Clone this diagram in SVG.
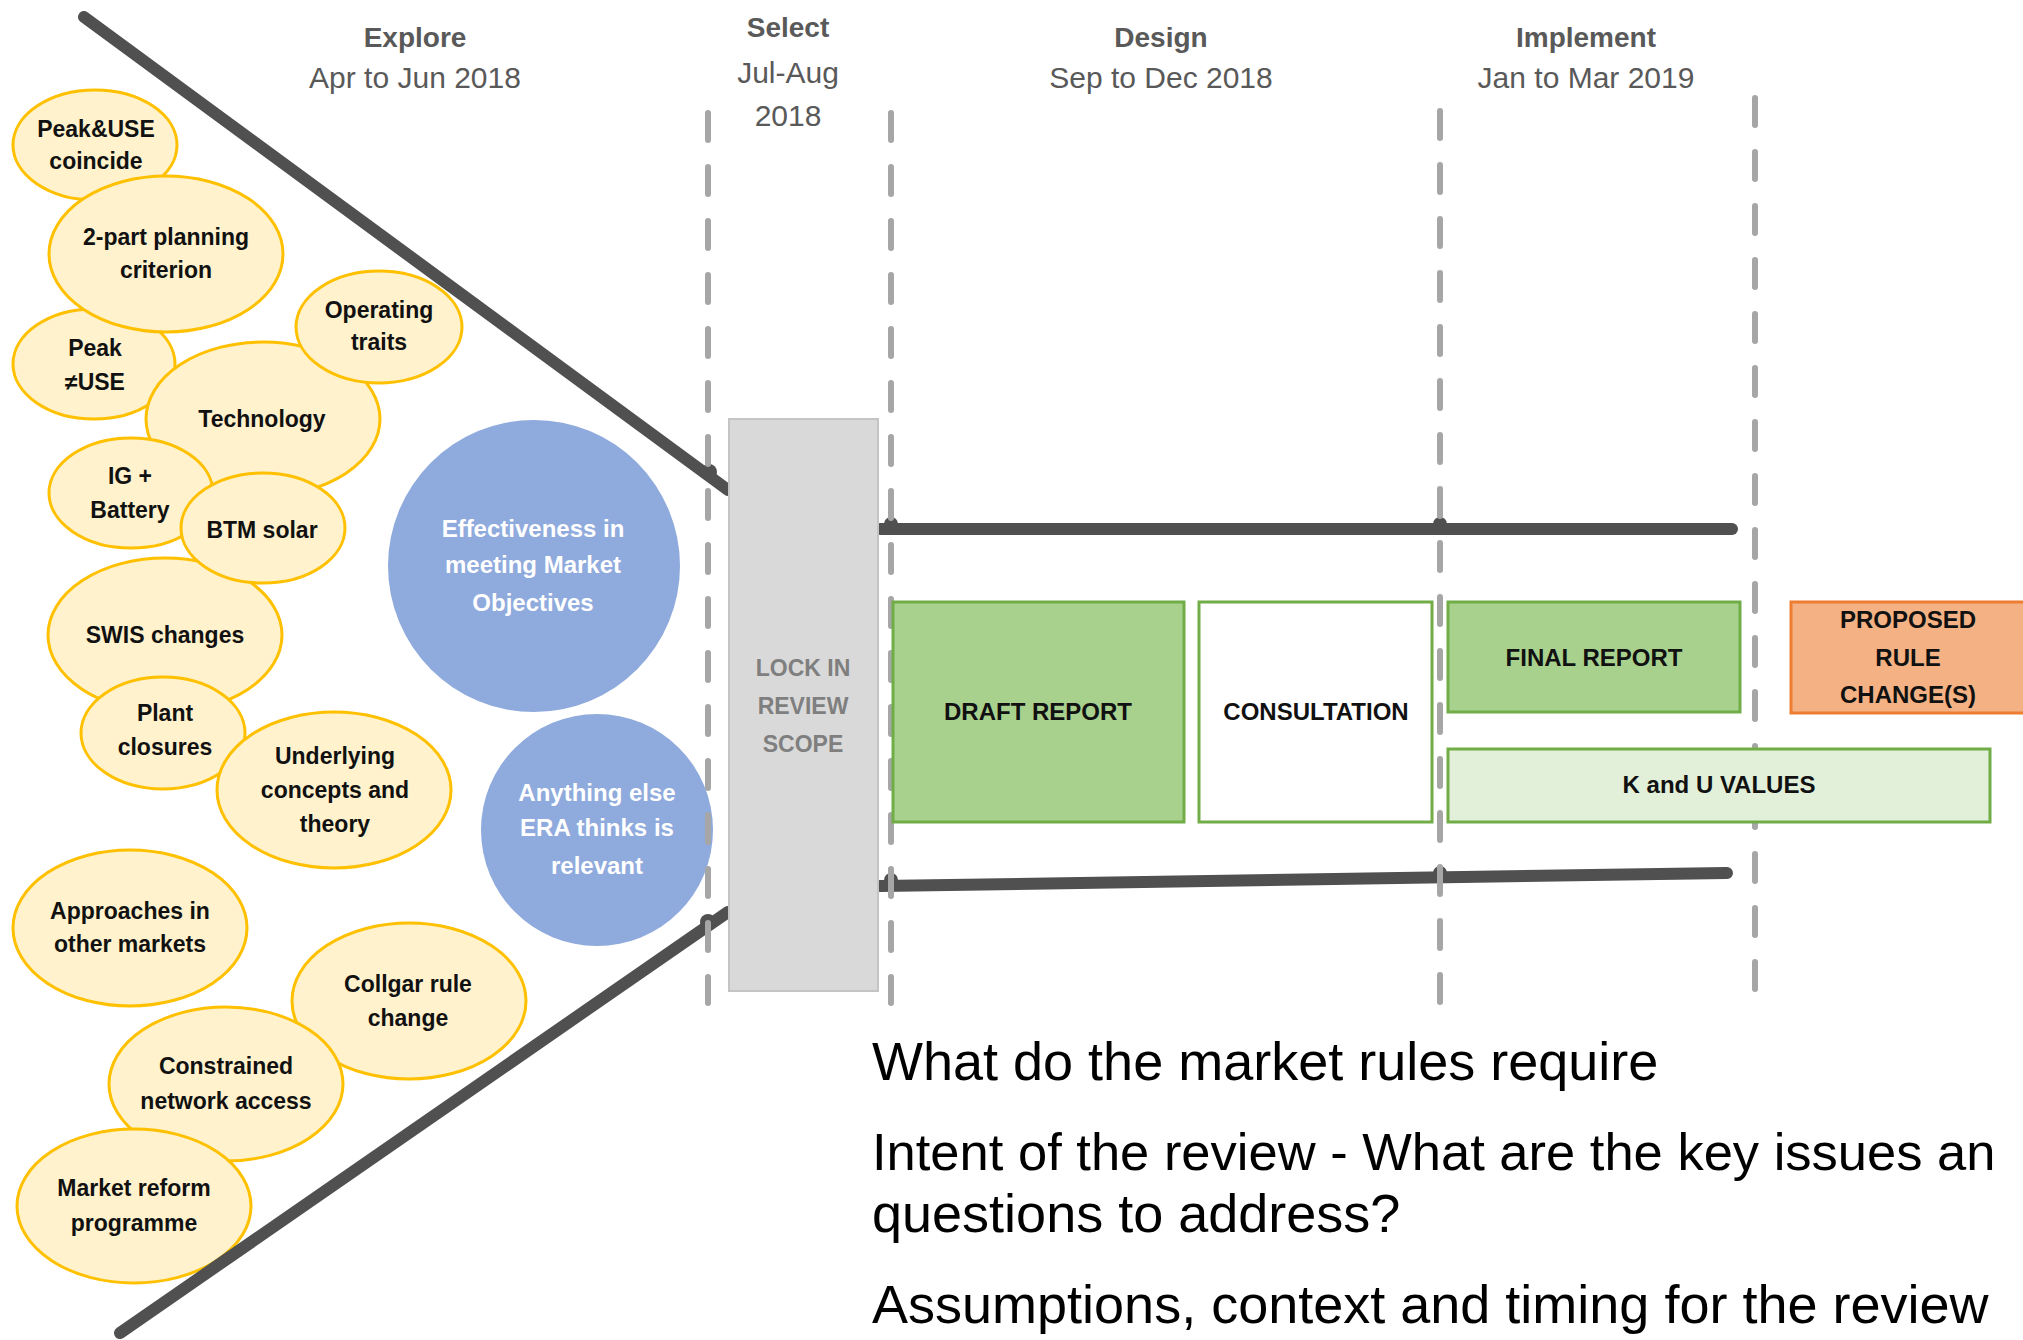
<svg xmlns="http://www.w3.org/2000/svg" width="2023" height="1340" viewBox="0 0 2023 1340">
<style>
  .yc { fill:#FFF2CC; stroke:#FFC000; stroke-width:3; }
  .bc { fill:#8FAADC; }
  .yt { font-family:"Liberation Sans", Arial, sans-serif; font-weight:bold; font-size:23px; fill:#111; text-anchor:middle; }
  .bt { font-family:"Liberation Sans", Arial, sans-serif; font-weight:bold; font-size:24px; fill:#FFFFFF; text-anchor:middle; }
  .hb { font-family:"Liberation Sans", Arial, sans-serif; font-weight:bold; font-size:28px; fill:#595959; text-anchor:middle; }
  .hr { font-family:"Liberation Sans", Arial, sans-serif; font-size:30px; fill:#595959; text-anchor:middle; }
  .dark { fill:none; stroke:#505050; stroke-width:12; stroke-linecap:round; }
  .knob { fill:#505050; }
  .dash { fill:none; stroke:#A6A6A6; stroke-width:6; stroke-linecap:round; stroke-dasharray:27 27; }
  .gbox { fill:#A9D18E; stroke:#70AD47; stroke-width:3; }
  .wbox { fill:#FFFFFF; stroke:#70AD47; stroke-width:3; }
  .lbox { fill:#E2F0D9; stroke:#70AD47; stroke-width:3; }
  .obox { fill:#F4B183; stroke:#ED7D31; stroke-width:3; }
  .lock { fill:#D9D9D9; stroke:#C4C4C4; stroke-width:2; }
  .bx { font-family:"Liberation Sans", Arial, sans-serif; font-weight:bold; font-size:24px; fill:#111; text-anchor:middle; }
  .lt { font-family:"Liberation Sans", Arial, sans-serif; font-weight:bold; font-size:23px; fill:#7F7F7F; text-anchor:middle; }
  .big { font-family:"Liberation Sans", Arial, sans-serif; font-size:54px; fill:#000; }
</style>

<!-- Phase headers -->
<g id="header-explore">
  <text class="hb" x="415" y="47">Explore</text>
  <text class="hr" x="415" y="88">Apr to Jun 2018</text>
</g>
<g id="header-select">
  <text class="hb" x="788" y="37">Select</text>
  <text class="hr" x="788" y="83">Jul-Aug</text>
  <text class="hr" x="788" y="126">2018</text>
</g>
<g id="header-design">
  <text class="hb" x="1161" y="47">Design</text>
  <text class="hr" x="1161" y="88">Sep to Dec 2018</text>
</g>
<g id="header-implement">
  <text class="hb" x="1586" y="47">Implement</text>
  <text class="hr" x="1586" y="88">Jan to Mar 2019</text>
</g>

<!-- Yellow topic bubbles -->
<g id="peak-use-coincide">
  <ellipse class="yc" cx="95" cy="145" rx="82" ry="55"/>
  <text class="yt" x="96" y="137">Peak&amp;USE</text>
  <text class="yt" x="96" y="169">coincide</text>
</g>
<g id="peak-not-use">
  <ellipse class="yc" cx="94" cy="364" rx="81" ry="55"/>
  <text class="yt" x="95" y="356">Peak</text>
  <text class="yt" x="95" y="390">≠USE</text>
</g>
<g id="two-part-planning">
  <ellipse class="yc" cx="166" cy="254" rx="117" ry="78"/>
  <text class="yt" x="166" y="245">2-part planning</text>
  <text class="yt" x="166" y="278">criterion</text>
</g>
<g id="technology">
  <ellipse class="yc" cx="263" cy="419" rx="117" ry="77"/>
  <text class="yt" x="262" y="427">Technology</text>
</g>
<g id="operating-traits">
  <ellipse class="yc" cx="379" cy="327" rx="83" ry="56"/>
  <text class="yt" x="379" y="318">Operating</text>
  <text class="yt" x="379" y="350">traits</text>
</g>
<g id="ig-battery">
  <ellipse class="yc" cx="131" cy="493" rx="82" ry="55"/>
  <text class="yt" x="130" y="484">IG +</text>
  <text class="yt" x="130" y="518">Battery</text>
</g>
<g id="swis-changes">
  <ellipse class="yc" cx="165" cy="635" rx="117" ry="77"/>
  <text class="yt" x="165" y="643">SWIS changes</text>
</g>
<g id="btm-solar">
  <ellipse class="yc" cx="263" cy="528" rx="82" ry="55"/>
  <text class="yt" x="262" y="538">BTM solar</text>
</g>
<g id="plant-closures">
  <ellipse class="yc" cx="163" cy="733" rx="82" ry="56"/>
  <text class="yt" x="165" y="721">Plant</text>
  <text class="yt" x="165" y="755">closures</text>
</g>
<g id="underlying-concepts">
  <ellipse class="yc" cx="334" cy="790" rx="117" ry="78"/>
  <text class="yt" x="335" y="764">Underlying</text>
  <text class="yt" x="335" y="798">concepts and</text>
  <text class="yt" x="335" y="832">theory</text>
</g>
<g id="approaches-other-markets">
  <ellipse class="yc" cx="130" cy="928" rx="117" ry="78"/>
  <text class="yt" x="130" y="919">Approaches in</text>
  <text class="yt" x="130" y="952">other markets</text>
</g>
<g id="collgar-rule-change">
  <ellipse class="yc" cx="409" cy="1001" rx="117" ry="78"/>
  <text class="yt" x="408" y="992">Collgar rule</text>
  <text class="yt" x="408" y="1026">change</text>
</g>
<g id="constrained-network-access">
  <ellipse class="yc" cx="226" cy="1084" rx="117" ry="77"/>
  <text class="yt" x="226" y="1074">Constrained</text>
  <text class="yt" x="226" y="1109">network access</text>
</g>
<g id="market-reform-programme">
  <ellipse class="yc" cx="134" cy="1206" rx="117" ry="77"/>
  <text class="yt" x="134" y="1196">Market reform</text>
  <text class="yt" x="134" y="1231">programme</text>
</g>

<!-- Blue bubbles -->
<g id="effectiveness">
  <circle class="bc" cx="534" cy="566" r="146"/>
  <text class="bt" x="533" y="537">Effectiveness in</text>
  <text class="bt" x="533" y="573">meeting Market</text>
  <text class="bt" x="533" y="611">Objectives</text>
</g>
<g id="anything-else">
  <circle class="bc" cx="597" cy="830" r="116"/>
  <text class="bt" x="597" y="801">Anything else</text>
  <text class="bt" x="597" y="836">ERA thinks is</text>
  <text class="bt" x="597" y="874">relevant</text>
</g>

<!-- Funnel and process lines -->
<g id="connectors">
  <path class="dark" d="M84 17 L728 490"/>
  <path class="dark" d="M120 1333 L728 912"/>
  <path class="dark" d="M880 529 L1732 529"/>
  <path class="dark" d="M880 886 L1727 873"/>
  <circle class="knob" cx="709" cy="472" r="8"/>
  <circle class="knob" cx="708" cy="922" r="8"/>
  <circle class="knob" cx="891" cy="524" r="7"/>
  <circle class="knob" cx="1440" cy="524" r="7"/>
  <circle class="knob" cx="891" cy="880" r="7"/>
  <circle class="knob" cx="1440" cy="873" r="7"/>
</g>

<!-- Phase dividers -->
<g id="phase-dividers">
  <line class="dash" x1="708" y1="113" x2="708" y2="1003"/>
  <line class="dash" x1="891" y1="113" x2="891" y2="1003"/>
  <line class="dash" x1="1440" y1="111" x2="1440" y2="1003"/>
  <line class="dash" x1="1755" y1="98" x2="1755" y2="990"/>
</g>

<!-- Process boxes -->
<g id="lock-in-review-scope">
  <rect class="lock" x="729" y="419" width="149" height="572"/>
  <text class="lt" x="803" y="676">LOCK IN</text>
  <text class="lt" x="803" y="714">REVIEW</text>
  <text class="lt" x="803" y="752">SCOPE</text>
</g>
<g id="draft-report">
  <rect class="gbox" x="893" y="602" width="291" height="220"/>
  <text class="bx" x="1038" y="720">DRAFT REPORT</text>
</g>
<g id="consultation">
  <rect class="wbox" x="1199" y="602" width="233" height="220"/>
  <text class="bx" x="1316" y="720">CONSULTATION</text>
</g>
<g id="final-report">
  <rect class="gbox" x="1448" y="602" width="292" height="110"/>
  <text class="bx" x="1594" y="666">FINAL REPORT</text>
</g>
<g id="k-and-u-values">
  <rect class="lbox" x="1448" y="749" width="542" height="73"/>
  <text class="bx" x="1719" y="793">K and U VALUES</text>
</g>
<g id="proposed-rule-changes">
  <rect class="obox" x="1791" y="602" width="240" height="111"/>
  <text class="bx" x="1908" y="628">PROPOSED</text>
  <text class="bx" x="1908" y="666">RULE</text>
  <text class="bx" x="1908" y="703">CHANGE(S)</text>
</g>

<!-- Notes -->
<g id="notes">
  <text class="big" x="872" y="1080">What do the market rules require</text>
  <text class="big" x="872" y="1170" style="font-size:52.5px">Intent of the review - What are the key issues an</text>
  <text class="big" x="872" y="1232">questions to address?</text>
  <text class="big" x="872" y="1323">Assumptions, context and timing for the review</text>
</g>
</svg>
